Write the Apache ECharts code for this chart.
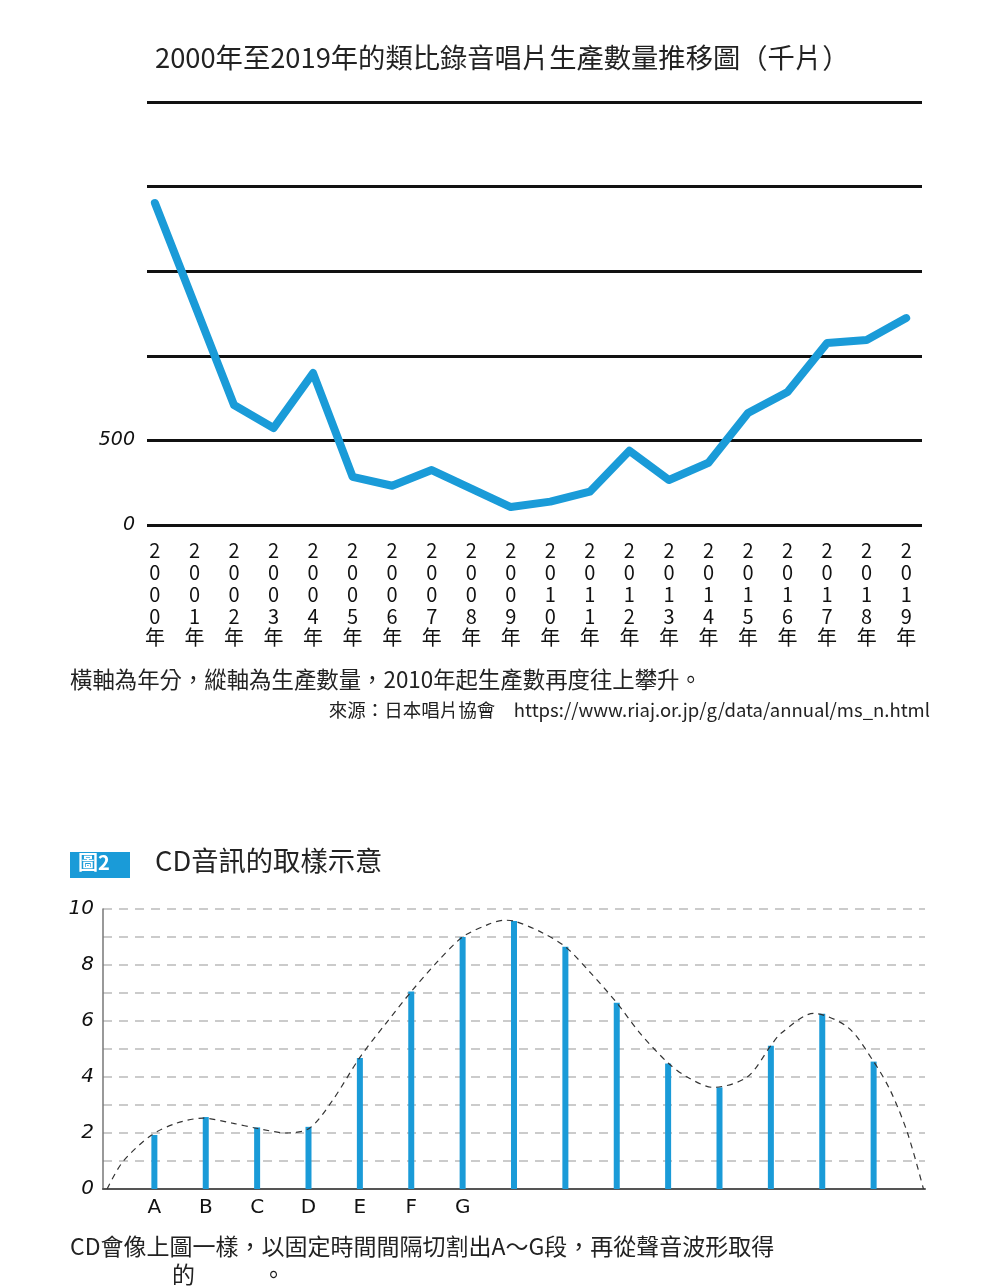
<!DOCTYPE html>
<html>
<head>
<meta charset="utf-8">
<script src="https://cdn.jsdelivr.net/npm/echarts@6/dist/echarts.min.js"></script>
<style>
html,body{margin:0;padding:0;background:#fff;}
#chart{width:1000px;height:1286px;}
</style>
</head>
<body>
<div id="chart"></div>
<script>
// ---- Chart 1: analog record production (thousand) ----
const years = [2000,2001,2002,2003,2004,2005,2006,2007,2008,2009,2010,2011,2012,2013,2014,2015,2016,2017,2018,2019];
const records = [1903,1306,709,573,898,285,232,325,215,106,138,197,439,266,368,662,786,1076,1093,1223];
const recordTicks = [0,500,1000,1500,2000,2500];
const recordLabelTicks = [0,500];

// ---- Chart 2: CD sampling ----
const samplePos = [1,2,3,4,5,6,7,8,9,10,11,12,13,14,15];
const sampleVals = [1.93,2.57,2.2,2.22,4.68,7.05,9.0,9.57,8.65,6.65,4.48,3.63,5.12,6.26,4.55];
const segmentLabels = ['A','B','C','D','E','F','G'];
const waveX = [0.08,0.38,0.94,1.43,1.94,2.52,2.99,3.57,4.02,4.47,5,5.5,6,6.5,7,7.5,7.8,8,8.5,9,9.5,10,10.46,11,11.37,11.88,12.54,13,13.19,13.83,14.5,15,15.33,15.66,15.97];
const waveY = [0,0.96,1.92,2.35,2.53,2.35,2.17,2.0,2.17,3.17,4.7,5.9,7.05,8.1,9.0,9.45,9.6,9.57,9.2,8.65,7.7,6.65,5.55,4.5,4.0,3.63,4.0,5.12,5.55,6.27,5.77,4.55,3.5,2.0,0];
const ampTicks = [0,2,4,6,8,10];

const BLUE = '#1a9bd8';
const CJK = '"Noto Sans CJK TC","Noto Sans CJK SC",sans-serif';

const chart = echarts.init(document.getElementById('chart'), null, {renderer:'canvas'});

const option = {
  backgroundColor:'#ffffff',
  animation:false,
  grid:[
    {left:147, top:102, width:775, height:423, containLabel:false},
    {left:103, top:909, width:822, height:280, containLabel:false}
  ],
  xAxis:[
    {
      gridIndex:0, type:'value', min:1999.8, max:2019.4,
      axisLine:{show:false}, axisTick:{show:false}, splitLine:{show:false},
      axisLabel:{
        show:true, customValues:years, margin:15,
        fontFamily:CJK, fontSize:20, lineHeight:21.7, color:'#111',
        formatter:function(v){ return String(Math.round(v)).split('').join('\n') + '\n年'; }
      }
    },
    {
      gridIndex:1, type:'value', min:0, max:16, interval:1,
      axisLine:{show:true, lineStyle:{color:'#555', width:2}},
      axisTick:{show:false}, splitLine:{show:false},
      axisLabel:{
        margin:9, fontFamily:'"DejaVu Sans",sans-serif', fontSize:20, color:'#111',
        formatter:function(v){ const i = Math.round(v); return (i>=1 && i<=segmentLabels.length) ? segmentLabels[i-1] : ''; }
      }
    }
  ],
  yAxis:[
    {
      gridIndex:0, type:'value', min:recordTicks[0], max:recordTicks[recordTicks.length-1], interval:500,
      axisLine:{show:false}, axisTick:{show:false},
      splitLine:{show:true, lineStyle:{color:'#111', width:3}},
      axisLabel:{
        margin:12, fontFamily:'"DejaVu Sans",sans-serif', fontStyle:'italic', fontSize:19, color:'#111',
        formatter:function(v){ return recordLabelTicks.indexOf(v) >= 0 ? String(v) : ''; }
      }
    },
    {
      gridIndex:1, type:'value', min:0, max:10, interval:1,
      axisLine:{show:true, lineStyle:{color:'#777', width:1.5}}, axisTick:{show:false},
      splitLine:{show:true, lineStyle:{color:'#bbbbbb', width:1.5, type:[9,7]}},
      axisLabel:{
        margin:9, fontFamily:'"DejaVu Sans",sans-serif', fontStyle:'italic', fontSize:20, color:'#111',
        formatter:function(v){ return ampTicks.indexOf(v) >= 0 ? String(v) : ''; }
      }
    }
  ],
  series:[
    {
      type:'line', xAxisIndex:0, yAxisIndex:0,
      data: years.map(function(y,i){ return [y, records[i]]; }),
      symbol:'none', lineStyle:{color:BLUE, width:8, join:'round', cap:'round'},
      z:5
    },
    {
      type:'bar', xAxisIndex:1, yAxisIndex:1,
      data: samplePos.map(function(x,i){ return [x, sampleVals[i]]; }),
      barWidth:6, itemStyle:{color:BLUE}, z:4
    },
    {
      type:'line', xAxisIndex:1, yAxisIndex:1,
      data: waveX.map(function(x,i){ return [x, waveY[i]]; }),
      smooth:0.3, symbol:'none',
      lineStyle:{color:'#333', width:1.2, type:[6,5]}, z:6
    }
  ],
  graphic:[
    {type:'text', left:155, top:44, style:{text:'2000年至2019年的類比錄音唱片生產數量推移圖（千片）', font:'27.3px '+CJK, fill:'#222'}},
    {type:'text', left:70, top:668, style:{text:'橫軸為年分，縱軸為生產數量，2010年起生產數再度往上攀升。', font:'22.4px '+CJK, fill:'#222'}},
    {type:'text', right:70, top:701, style:{text:'來源：日本唱片協會　https://www.riaj.or.jp/g/data/annual/ms_n.html', font:'18.5px '+CJK, fill:'#222'}},
    {type:'rect', left:70, top:852, shape:{width:60, height:26}, style:{fill:BLUE}},
    {type:'text', left:78, top:852, style:{text:'圖2', font:'bold 20px '+CJK, fill:'#ffffff'}},
    {type:'text', left:155, top:847, style:{text:'CD音訊的取樣示意', font:'27.3px '+CJK, fill:'#222'}},
    {type:'text', left:70, top:1235, style:{text:'CD會像上圖一樣，以固定時間間隔切割出A～G段，再從聲音波形取得', font:'23px '+CJK, fill:'#222'}},
    {type:'text', left:172, top:1263, style:{text:'的', font:'23px '+CJK, fill:'#222'}},
    {type:'text', left:262, top:1263, style:{text:'。', font:'23px '+CJK, fill:'#222'}}
  ]
};
chart.setOption(option);
</script>
</body>
</html>
